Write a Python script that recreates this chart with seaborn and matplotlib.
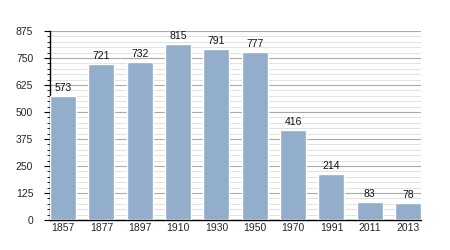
import matplotlib
matplotlib.use("Agg")
import matplotlib.pyplot as plt
import seaborn as sns
import pandas as pd
from matplotlib.ticker import MultipleLocator

years = ["1857", "1877", "1897", "1910", "1930", "1950", "1970", "1991", "2011", "2013"]
population = [573, 721, 732, 815, 791, 777, 416, 214, 83, 78]
yticks = [0, 125, 250, 375, 500, 625, 750, 875]

df = pd.DataFrame({"year": years, "pop": population})

sns.set_theme(style="white")
plt.rcParams['font.family'] = ['Liberation Sans', 'DejaVu Sans']

fig = plt.figure(figsize=(4.5, 2.5), dpi=100)
ax = fig.add_axes([0.111, 0.12, 0.825, 0.756])

bw = 0.68
sns.barplot(data=df, x="year", y="pop", color="#93AECB", saturation=1, width=bw, ax=ax, zorder=3)

ax.set_ylim(0, 875)
ax.set_xlim(-bw / 2, len(years) - 1 + bw / 2)
ax.set_yticks(yticks)
ax.set_yticklabels([str(v) for v in yticks])
ax.yaxis.set_minor_locator(MultipleLocator(25))
ax.grid(which="major", axis="y", color="#aaaaaa", linewidth=0.8, zorder=0)
ax.grid(which="minor", axis="y", color="#dddddd", linewidth=0.6, zorder=0)
ax.set_axisbelow(True)

for i, v in enumerate(population):
    ax.text(i, v + 14, str(v), ha="center", va="bottom", fontsize=7.5, color="#111111")

ax.set_xlabel("")
ax.set_ylabel("")
for s in ["top", "right"]:
    ax.spines[s].set_visible(False)
ax.spines["left"].set_color("black")
ax.spines["bottom"].set_color("black")
ax.spines["left"].set_linewidth(1)
ax.spines["bottom"].set_linewidth(1)
ax.tick_params(axis="y", which="major", left=True, length=4, width=0.8, color="black", labelsize=7.5, pad=8)
ax.tick_params(axis="y", which="minor", left=True, length=2, width=0.6, color="black")
ax.tick_params(axis="x", which="both", bottom=False, length=0, labelsize=7.5, pad=2)

fig.savefig("out.png", dpi=100)
